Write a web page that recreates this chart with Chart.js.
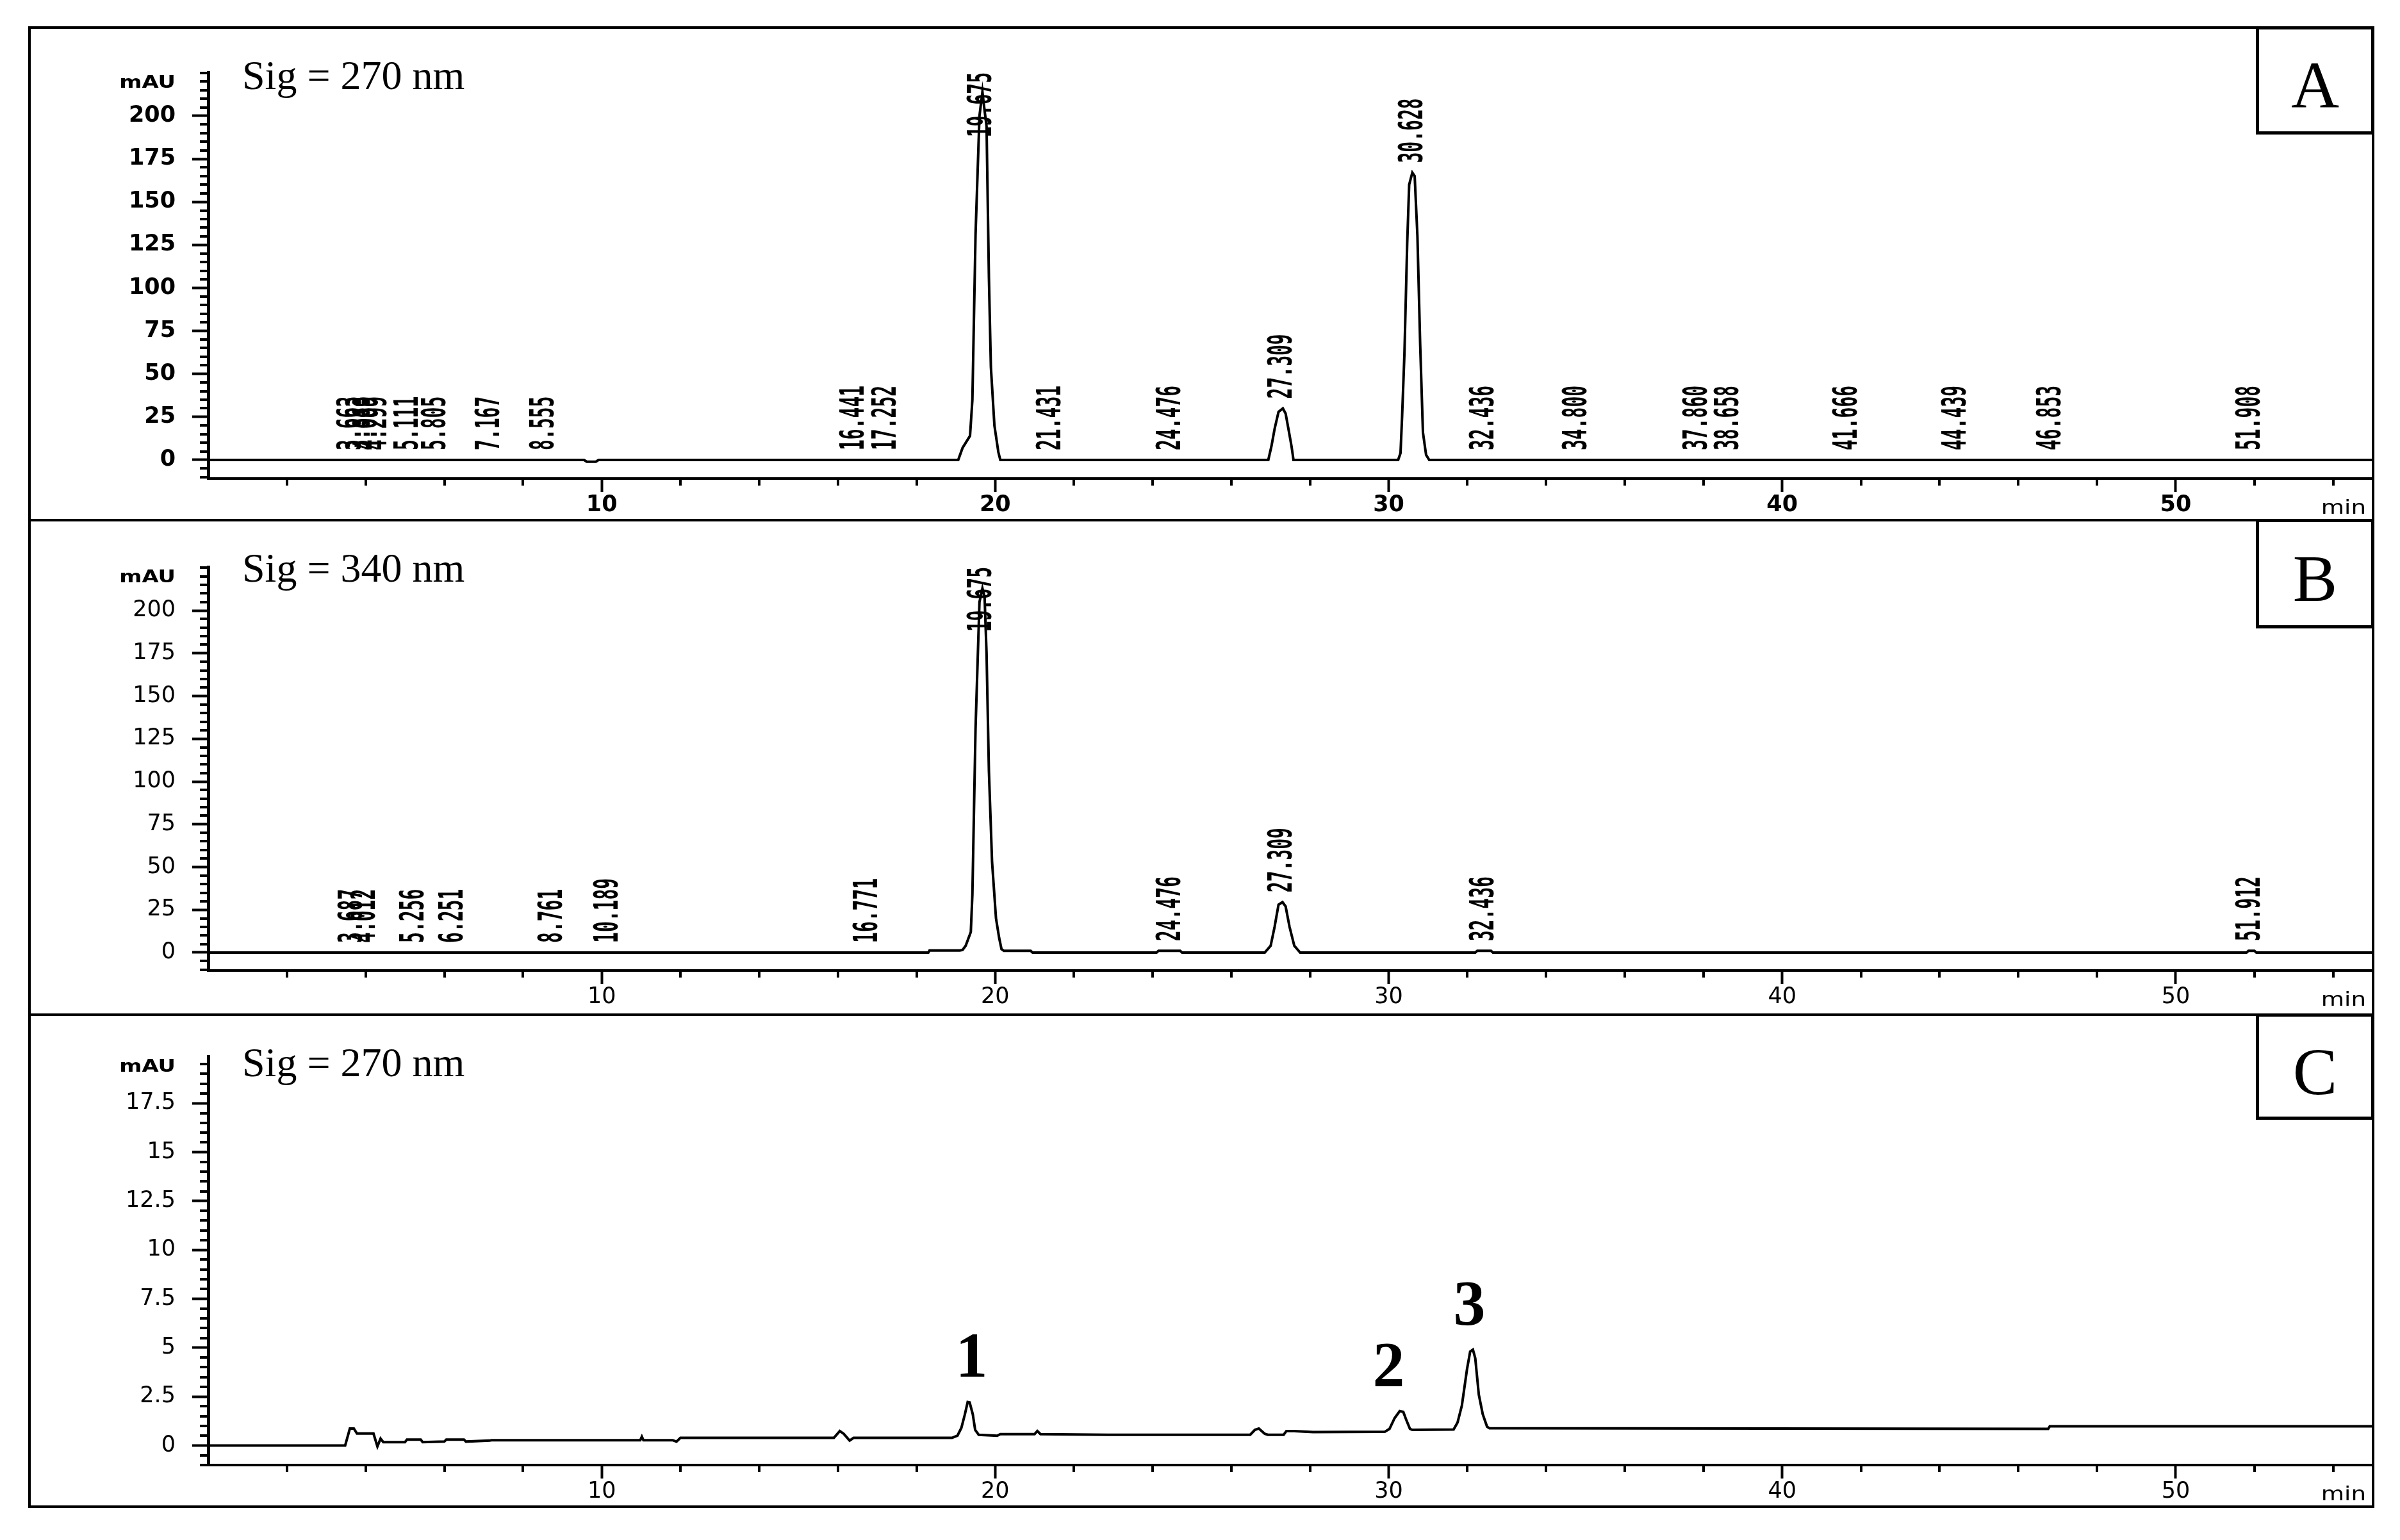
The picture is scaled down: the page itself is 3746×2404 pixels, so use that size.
<!DOCTYPE html>
<html>
<head>
<meta charset="utf-8">
<title>HPLC chromatograms</title>
<script src="https://cdn.jsdelivr.net/npm/chart.js@4.4.1/dist/chart.umd.min.js"></script>
<style>
  html, body { margin:0; padding:0; background:#fff; overflow:hidden; }
  #page { position:relative; width:3746px; height:2404px; background:#fff; overflow:hidden; }
  .cv { position:absolute; left:46px; }
  .frame { position:absolute; left:44px; width:3662px; border:4px solid #000; box-sizing:border-box; pointer-events:none; }
  .tagbox { position:absolute; left:3521px; width:185px; border:5px solid #000; box-sizing:border-box; background:#fff; }
  .tag { position:absolute; left:3521px; width:185px; text-align:center; font-family:"Liberation Serif", serif; font-size:104px; line-height:104px; color:#000; }
  .sig { position:absolute; left:378px; font-family:"Liberation Serif", serif; font-size:64px; line-height:64px; color:#000; white-space:nowrap; }
</style>
</head>
<body>
<div id="page">
  <canvas id="cA" class="cv" width="3660" height="769" style="top:43px;width:3660px;height:769px"></canvas>
  <canvas id="cB" class="cv" width="3660" height="772" style="top:812px;width:3660px;height:772px"></canvas>
  <canvas id="cC" class="cv" width="3660" height="768" style="top:1584px;width:3660px;height:768px"></canvas>

  <div class="frame" style="top:41px;height:773px"></div>
  <div class="frame" style="top:810px;height:776px"></div>
  <div class="frame" style="top:1582px;height:772px"></div>

  <div class="sig" style="top:86px">Sig = 270 nm</div>
  <div class="sig" style="top:855px">Sig = 340 nm</div>
  <div class="sig" style="top:1627px">Sig = 270 nm</div>

  <div class="tagbox" style="top:41px;height:169px"></div>
  <div class="tagbox" style="top:810px;height:171px"></div>
  <div class="tagbox" style="top:1582px;height:166px"></div>
  <div class="tag" style="top:81px">A</div>
  <div class="tag" style="top:851px">B</div>
  <div class="tag" style="top:1621px">C</div>
</div>

<script>
// ---------------- data ----------------
const xTickLabels = [10, 20, 30, 40, 50];
const yTicksAB = [0, 25, 50, 75, 100, 125, 150, 175, 200];
const yTicksC = [0, 2.5, 5, 7.5, 10, 12.5, 15, 17.5];

// Panel A : 270 nm (time in min, absorbance in mAU)
const timeA = [0, 9.55, 9.62, 9.85, 9.92,
  19.06, 19.17, 19.36, 19.42, 19.50, 19.60, 19.675, 19.72, 19.78, 19.84, 19.89, 19.98, 20.08, 20.13,
  26.94, 27.02, 27.10, 27.20, 27.31, 27.38, 27.46, 27.53, 27.58,
  30.24, 30.30, 30.34, 30.40, 30.47, 30.52, 30.60, 30.66, 30.73, 30.80, 30.87, 30.95, 31.03,
  55];
const absA = [0, 0, -1, -1, 0,
  0, 7, 14, 35, 131, 200, 214, 205, 194, 106, 54, 20, 4.5, 0,
  0, 8, 18, 28, 30, 27, 17, 8, 0,
  0, 4, 25, 62, 126, 160, 167, 165, 130, 67, 16, 3, 0,
  0];
const peakLabelsA = ['3.663','3.883','4.069','4.299','5.111','5.805','7.167','8.555','16.441','17.252',
  '19.675','21.431','24.476','27.309','30.628','32.436','34.800','37.860','38.658','41.666',
  '44.439','46.853','51.908'];

// Panel B : 340 nm
const timeB = [0, 18.30, 18.33, 19.10,
  19.17, 19.25, 19.38, 19.42, 19.50, 19.60, 19.675, 19.73, 19.78, 19.84, 19.92, 20.02, 20.10, 20.16, 20.22,
  20.90, 20.95,
  24.10, 24.15, 24.70, 24.75,
  26.85, 27.00, 27.10, 27.20, 27.30, 27.38, 27.48, 27.60, 27.75,
  32.20, 32.25, 32.60, 32.65,
  51.80, 51.85, 52.00, 52.05,
  55];
const absB = [0, 0, 1.2, 1.2,
  1.5, 4, 12, 34, 131, 205, 213, 208, 175, 106, 53, 20, 8.6, 2, 1,
  1, 0,
  0, 1, 1, 0,
  0, 4, 15, 28, 29.5, 27, 15, 4, 0,
  0, 1, 1, 0,
  0, 1, 1, 0,
  0];
const peakLabelsB = ['3.687','4.012','5.256','6.251','8.761','10.189','16.771','19.675','24.476','27.309','32.436','51.912'];

// Panel C : 270 nm (sample)
const timeC = [0, 3.48, 3.60, 3.70, 3.78, 4.20, 4.30, 4.38, 4.45, 5.00,
  5.05, 5.40, 5.45, 6.00, 6.05, 6.50, 6.55, 7.15, 7.20, 10.98,
  11.02, 11.06, 11.80, 11.90, 12.00, 15.90, 16.05, 16.15, 16.30, 16.40,
  18.90, 19.04, 19.14, 19.23, 19.30, 19.35, 19.43, 19.49, 19.58, 20.05,
  20.13, 21.00, 21.07, 21.15, 22.85, 26.48, 26.60, 26.70, 26.85, 26.93,
  27.33, 27.40, 27.60, 28.08, 29.90, 30.02, 30.15, 30.28, 30.37, 30.45,
  30.54, 30.60, 31.65, 31.75, 31.86, 31.99, 32.07, 32.14, 32.20, 32.29,
  32.39, 32.50, 32.56, 46.76, 46.80, 55];
const absC = [0, 0, 0.87, 0.87, 0.61, 0.61, -0.05, 0.35, 0.17, 0.17,
  0.30, 0.30, 0.17, 0.20, 0.30, 0.30, 0.20, 0.25, 0.27, 0.27,
  0.45, 0.27, 0.27, 0.20, 0.39, 0.39, 0.74, 0.60, 0.25, 0.39,
  0.39, 0.50, 0.90, 1.60, 2.22, 2.20, 1.60, 0.80, 0.55, 0.50,
  0.58, 0.58, 0.74, 0.58, 0.55, 0.55, 0.80, 0.87, 0.60, 0.55,
  0.55, 0.74, 0.74, 0.69, 0.70, 0.85, 1.40, 1.76, 1.72, 1.29,
  0.85, 0.80, 0.82, 1.18, 2.05, 3.90, 4.80, 4.90, 4.46, 2.60,
  1.60, 0.96, 0.88, 0.85, 0.98, 0.98];
const compoundNamesC = ['1', '2', '3'];
const compoundTimesC = [19.4, 30.0, 32.05];

// ---------------- drawing ----------------
function apexNear(t, ts, ys, win) {
  let m = 0;
  for (let i = 0; i < ts.length; i++) if (Math.abs(ts[i] - t) <= win) m = Math.max(m, ys[i]);
  for (let i = 1; i < ts.length; i++) {
    if (ts[i - 1] <= t && ts[i] >= t) {
      const f = ts[i] === ts[i - 1] ? 0 : (t - ts[i - 1]) / (ts[i] - ts[i - 1]);
      m = Math.max(m, ys[i - 1] + f * (ys[i] - ys[i - 1]));
    }
  }
  return m;
}

function decorPlugin(o) {
  return {
    id: 'decor',
    afterDraw(chart) {
      const ctx = chart.ctx, xs = chart.scales.x, ys = chart.scales.y, a = chart.chartArea;
      ctx.save();
      ctx.strokeStyle = '#000';
      ctx.fillStyle = '#000';
      ctx.lineWidth = 4;
      // minor y ticks
      const n0 = Math.ceil(o.ymin / o.yMinor - 1e-9), n1 = Math.floor(o.ymax / o.yMinor + 1e-9);
      for (let k = n0; k <= n1; k++) {
        const v = +(k * o.yMinor).toFixed(3);
        if (o.yTicks.includes(v)) continue;
        const py = Math.round(ys.getPixelForValue(v));
        ctx.beginPath(); ctx.moveTo(a.left - 13, py); ctx.lineTo(a.left, py); ctx.stroke();
      }
      // minor x ticks (every 2 min)
      for (let k = 1; k * 2 < 55; k++) {
        const v = k * 2;
        if (xTickLabels.includes(v)) continue;
        const px = Math.round(xs.getPixelForValue(v));
        ctx.beginPath(); ctx.moveTo(px, a.bottom); ctx.lineTo(px, a.bottom + 11); ctx.stroke();
      }
      // mAU unit
      ctx.save();
      ctx.font = 'bold 26px "DejaVu Sans"';
      ctx.textAlign = 'right'; ctx.textBaseline = 'middle';
      ctx.translate(a.left - 51, a.top + 17);
      ctx.scale(1.3, 1);
      ctx.fillText('mAU', 0, 0);
      ctx.restore();
      // min unit
      ctx.save();
      ctx.font = '31px "DejaVu Sans"';
      ctx.textAlign = 'right'; ctx.textBaseline = 'alphabetic';
      ctx.translate(a.right - 10, a.bottom + 55);
      ctx.scale(1.2, 1);
      ctx.fillText('min', 0, 0);
      ctx.restore();
      // retention-time labels
      if (o.peakLabels) {
        ctx.font = 'bold 28px "DejaVu Sans Mono"';
        o.peakLabels.forEach(s => {
          const t = parseFloat(s);
          const apex = apexNear(t, o.t, o.y, 0.12);
          const x = xs.getPixelForValue(t);
          const len = ctx.measureText(s).width;
          let bottom = ys.getPixelForValue(apex) - 15;
          if (bottom - len < a.top) bottom = a.top + len;
          ctx.save();
          ctx.translate(x, bottom);
          ctx.rotate(-Math.PI / 2);
          ctx.scale(1, 1.85);
          ctx.textAlign = 'left'; ctx.textBaseline = 'middle';
          ctx.fillText(s, 0, 0);
          ctx.restore();
        });
      }
      // compound numbers
      if (o.compoundNames) {
        ctx.font = 'bold 100px "Liberation Serif"';
        ctx.textAlign = 'center'; ctx.textBaseline = 'alphabetic';
        o.compoundNames.forEach((s, i) => {
          const t = o.compoundTimes[i];
          const apex = apexNear(t, o.t, o.y, 0.3);
          ctx.fillText(s, xs.getPixelForValue(t), ys.getPixelForValue(apex) - 40);
        });
      }
      ctx.restore();
    }
  };
}

function makeChart(id, o) {
  const fontW = o.bold ? 'bold' : 'normal';
  return new Chart(document.getElementById(id), {
    type: 'line',
    data: {
      datasets: [{
        data: o.t.map((x, i) => ({ x: x, y: o.y[i] })),
        borderColor: '#000', borderWidth: 4, pointRadius: 0, tension: 0, fill: false
      }]
    },
    options: {
      responsive: false, animation: false, devicePixelRatio: 1,
      layout: { padding: { top: o.top, right: 3, left: 0, bottom: 0 } },
      plugins: { legend: { display: false }, tooltip: { enabled: false } },
      scales: {
        x: {
          type: 'linear', min: 0, max: 55, position: 'bottom',
          afterBuildTicks: s => { s.ticks = xTickLabels.map(v => ({ value: v })); },
          afterFit: s => { s.height = o.xh; },
          grid: { display: true, drawOnChartArea: false, drawTicks: true, tickLength: 21, tickWidth: 4, tickColor: '#000' },
          border: { display: true, color: '#000', width: 4 },
          ticks: { color: '#000', font: { family: 'DejaVu Sans', size: 35, weight: fontW }, padding: 0, maxRotation: 0, autoSkip: false }
        },
        y: {
          type: 'linear', min: o.ymin, max: o.ymax,
          afterBuildTicks: s => { s.ticks = o.yTicks.map(v => ({ value: v })); },
          afterFit: s => { s.width = 279; },
          grid: { display: true, drawOnChartArea: false, drawTicks: true, tickLength: 25, tickWidth: 4, tickColor: '#000' },
          border: { display: true, color: '#000', width: 5 },
          ticks: { color: '#000', font: { family: 'DejaVu Sans', size: 35, weight: fontW }, padding: 26, autoSkip: false,
                   callback: v => String(v) }
        }
      }
    },
    plugins: [decorPlugin(o)]
  });
}

makeChart('cA', { t: timeA, y: absA, ymin: -10.8, ymax: 225.3, yTicks: yTicksAB, yMinor: 5,
  top: 70, xh: 65, bold: true, peakLabels: peakLabelsA });
makeChart('cB', { t: timeB, y: absB, ymin: -10.5, ymax: 225.5, yTicks: yTicksAB, yMinor: 5,
  top: 73, xh: 69, bold: false, peakLabels: peakLabelsB });
makeChart('cC', { t: timeC, y: absC, ymin: -1.0, ymax: 19.9, yTicks: yTicksC, yMinor: 0.5,
  top: 65, xh: 65, bold: false, compoundNames: compoundNamesC, compoundTimes: compoundTimesC });
</script>
</body>
</html>
